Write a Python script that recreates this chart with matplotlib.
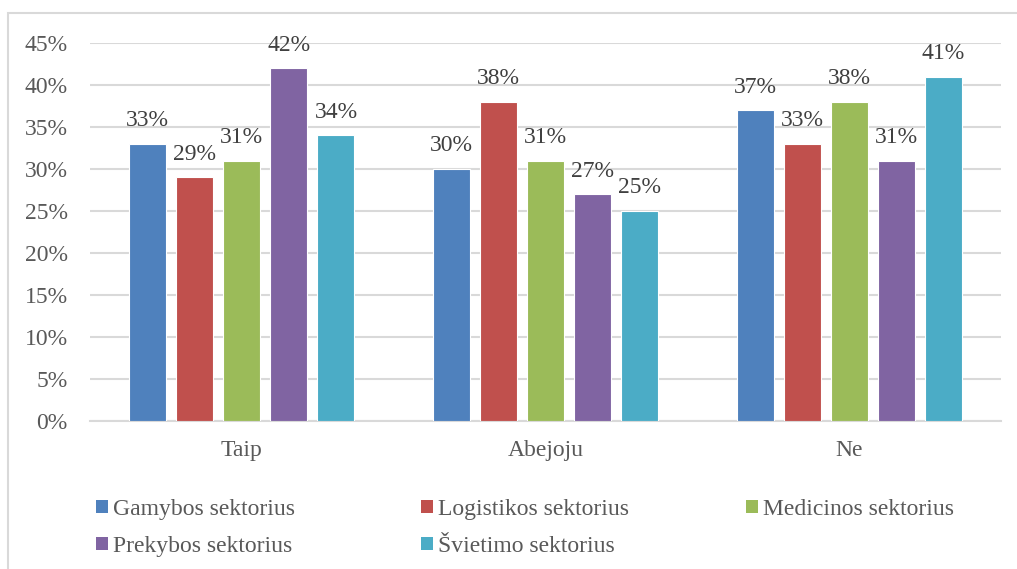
import numpy as np
import matplotlib.pyplot as plt
from matplotlib.patches import Rectangle, Patch
from matplotlib.ticker import PercentFormatter

plt.rcParams['font.family'] = ['Liberation Serif', 'DejaVu Serif']

categories = ['Taip', 'Abejoju', 'Ne']
sectors = ['Gamybos sektorius', 'Logistikos sektorius', 'Medicinos sektorius',
           'Prekybos sektorius', 'Švietimo sektorius']
values = [
    [33, 30, 37],  # Gamybos
    [29, 38, 33],  # Logistikos
    [31, 31, 38],  # Medicinos
    [42, 27, 31],  # Prekybos
    [34, 25, 41],  # Švietimo
]
colors = ['#4F81BD', '#C0504D', '#9BBB59', '#8064A2', '#4BACC6']
text_color = '#595959'
fs = 17

fig = plt.figure(figsize=(10.17, 5.69), dpi=100)
ax = fig.add_axes([90 / 1017, 1 - 421 / 569, 911 / 1017, 378 / 569])

# thin frame around the chart area
fig.patches.append(Rectangle((8 / 1017, -0.1), 1.2, 1 - 13 / 569 + 0.1,
                             transform=fig.transFigure, fill=False,
                             edgecolor='#D9D9D9', linewidth=1.5))

x = np.arange(len(categories))
width = 0.122
step = 0.155
for i, (name, vals, c) in enumerate(zip(sectors, values, colors)):
    pos = x + (i - 2) * step
    ax.bar(pos, vals, width=width, color=c, edgecolor='white', linewidth=0.8,
           label=name, zorder=3)
    for p, v in zip(pos, vals):
        ax.text(p, v + 1.5, f'{v}%', ha='center', va='bottom',
                fontsize=fs, color='#404040')

ax.set_xlim(-0.5, 2.5)
ax.set_ylim(0, 45)
ax.set_yticks(np.arange(0, 46, 5))
ax.yaxis.set_major_formatter(PercentFormatter(decimals=0))
ax.set_xticks(x)
ax.set_xticklabels(categories)
ax.tick_params(length=0, labelsize=fs, labelcolor=text_color)
ax.tick_params(axis='x', pad=14)
ax.tick_params(axis='y', pad=16)
ax.grid(axis='y', color='#D9D9D9', linewidth=1.5, zorder=0)
for s in ['top', 'right', 'left']:
    ax.spines[s].set_visible(False)
ax.spines['bottom'].set_color('#D9D9D9')
ax.spines['bottom'].set_linewidth(1.5)

# legend laid out row by row in fixed-width columns, one legend per column
columns = [[0, 3], [1, 4], [2]]
col_x = [96, 421, 746]
for idx, cx in zip(columns, col_x):
    handles = [Patch(facecolor=colors[i], label=sectors[i]) for i in idx]
    fig.legend(handles=handles, loc='upper left',
               bbox_to_anchor=(cx / 1017, 1 - 499 / 569),
               frameon=False, fontsize=fs, labelcolor=text_color,
               handlelength=0.5, handleheight=0.5, handletextpad=0.22,
               labelspacing=0.68, borderpad=0, borderaxespad=0)

fig.savefig('out.png', dpi=100)
